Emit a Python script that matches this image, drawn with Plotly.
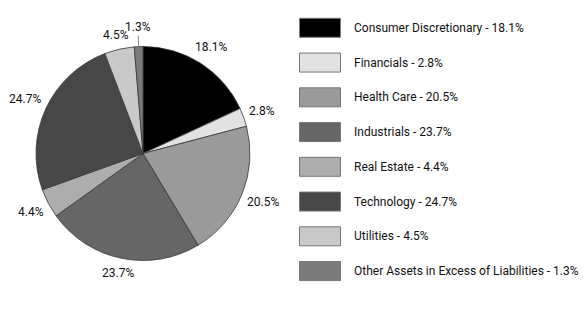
import math
import plotly.graph_objects as go

# Sector allocation (% of net assets)
sectors = ["Consumer Discretionary", "Financials", "Health Care", "Industrials",
           "Real Estate", "Technology", "Utilities",
           "Other Assets in Excess of Liabilities"]
weights = [18.1, 2.8, 20.5, 23.7, 4.4, 24.7, 4.5, 1.3]
shades = ["#000000", "#e2e2e2", "#9a9a9a", "#666666",
          "#adadad", "#474747", "#c9c9c9", "#7b7b7b"]

W, H = 585, 332
FONT = "Roboto, Liberation Sans, Arial, sans-serif"

# pie geometry in pixels (top-left origin)
cx, cy, rad = 143, 153.5, 107

fig = go.Figure(go.Pie(
    labels=sectors, values=weights, sort=False, direction="clockwise",
    rotation=0, textinfo="none", hoverinfo="label+value",
    marker=dict(colors=shades, line=dict(color="#3a3a3a", width=0.8)),
    domain=dict(x=[(cx - rad) / W, (cx + rad) / W],
                y=[(H - cy - rad) / H, (H - cy + rad) / H]),
    showlegend=False,
))

def px(x):
    return x / W

def py(y):
    return 1 - y / H

annotations = []
shapes = []

# percentage labels outside the pie: the label box edge sits just past
# the rim along each slice's mid-angle
total = sum(weights)
acc = 0.0
for name, w in zip(sectors, weights):
    mid = (acc + w / 2) / total * 2 * math.pi
    acc += w
    s, c = math.sin(mid), math.cos(mid)
    txt = f"{w}%"
    hw, hh = 3.1 * len(txt), 6
    base = 113
    if w < 2:
        base = 120
        # short leader line for the thin slice
        shapes.append(dict(
            type="line", xref="paper", yref="paper",
            x0=px(cx + rad * s), y0=py(cy - rad * c),
            x1=px(cx + (rad + 11) * s), y1=py(cy - (rad + 11) * c),
            line=dict(color="#888888", width=1)))
    lr = base + hw * abs(s) + hh * abs(c)
    annotations.append(dict(
        x=px(cx + lr * s), y=py(cy - lr * c), xref="paper", yref="paper",
        text=txt, showarrow=False, xanchor="center", yanchor="middle",
        font=dict(family=FONT, size=12, color="#111111")))

# legend: swatch boxes with labels
top, step = 27.8, 34.75
for i, (name, w, col) in enumerate(zip(sectors, weights, shades)):
    yc = top + i * step
    shapes.append(dict(
        type="rect", xref="paper", yref="paper",
        x0=px(299.5), x1=px(340.5), y0=py(yc - 9.5), y1=py(yc + 9.5),
        fillcolor=col, line=dict(color="#777777", width=1)))
    annotations.append(dict(
        x=px(352), y=py(yc), xref="paper", yref="paper",
        text=f"{name} - {w}%", showarrow=False,
        xanchor="left", yanchor="middle",
        font=dict(family=FONT, size=12, color="#111111")))

fig.update_layout(
    width=W, height=H, margin=dict(l=0, r=0, t=0, b=0),
    paper_bgcolor="white", plot_bgcolor="white",
    annotations=annotations, shapes=shapes,
)

fig.write_html("out.html")
